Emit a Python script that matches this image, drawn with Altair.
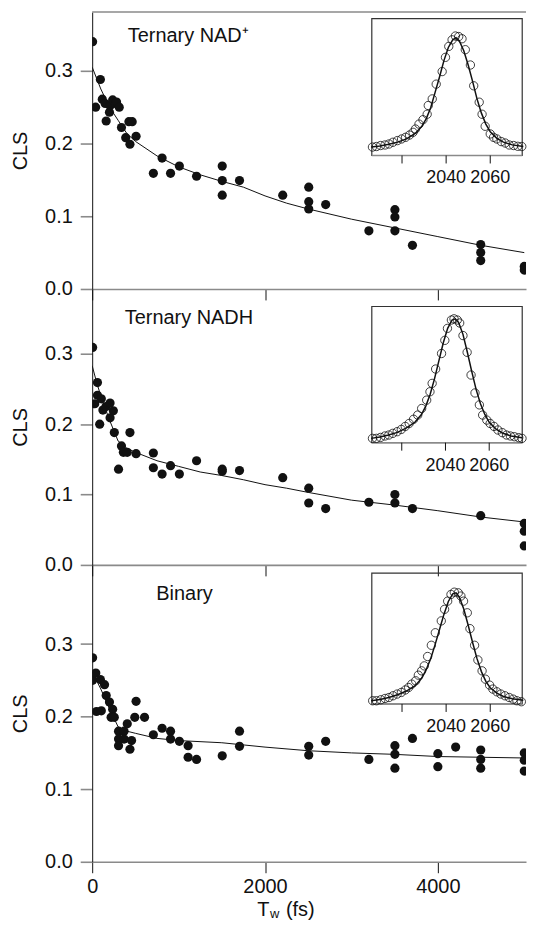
import altair as alt
import pandas as pd

FONT = "Liberation Sans"
GRAY = "#8a8a8a"
BLACK = "#111111"

# ---------------- main data: CLS vs Tw ----------------
nad_t = [5, 95, 40, 117, 150, 162, 207, 237, 270, 282, 313, 200, 339, 388, 425, 463, 437, 508,
         708, 809, 907, 1009, 1208, 1505, 1505, 1505, 1705, 2205, 2506, 2506, 2506, 2702,
         3202, 3503, 3503, 3503, 3706, 4496, 4496, 4496, 5000, 5000]
nad_cls = [0.34, 0.288, 0.25, 0.261, 0.255, 0.231, 0.252, 0.26, 0.255, 0.257, 0.25, 0.243, 0.222,
           0.208, 0.23, 0.23, 0.199, 0.21, 0.159, 0.18, 0.159, 0.169, 0.155, 0.169, 0.149,
           0.129, 0.149, 0.129, 0.14, 0.12, 0.11, 0.116, 0.08, 0.109, 0.099, 0.08, 0.06,
           0.061, 0.05, 0.039, 0.031, 0.026]
nad_fit_t = [0, 50, 100, 200, 300, 400, 500, 750, 1000, 1250, 1500, 1750, 2000, 2250, 2500,
             3000, 3500, 4000, 4500, 5000]
nad_fit_y = [0.305, 0.29, 0.275, 0.25, 0.232, 0.214, 0.203, 0.183, 0.168, 0.157, 0.148, 0.14,
             0.128, 0.118, 0.11, 0.096, 0.084, 0.072, 0.06, 0.05]

nadh_t = [5, 61, 61, 30, 106, 124, 87, 160, 207, 207, 245, 256, 339, 305, 361, 406, 437, 508,
          708, 708, 809, 907, 1009, 1208, 1505, 1505, 1705, 2205, 2506, 2506, 2702, 3202,
          3503, 3503, 3706, 4496, 5000, 5000, 5000]
nadh_cls = [0.309, 0.259, 0.241, 0.229, 0.236, 0.22, 0.2, 0.225, 0.23, 0.209, 0.219, 0.188,
            0.169, 0.136, 0.16, 0.16, 0.188, 0.158, 0.159, 0.138, 0.129, 0.141, 0.129, 0.148,
            0.136, 0.133, 0.134, 0.124, 0.109, 0.088, 0.08, 0.089, 0.1, 0.088, 0.08, 0.07,
            0.059, 0.048, 0.027]
nadh_fit_t = [0, 50, 100, 200, 300, 400, 500, 750, 1000, 1250, 1500, 1750, 2000, 2250, 2500,
              3000, 3500, 4000, 4500, 5000]
nadh_fit_y = [0.283, 0.26, 0.24, 0.206, 0.176, 0.166, 0.16, 0.148, 0.14, 0.132, 0.127, 0.121,
              0.114, 0.109, 0.103, 0.092, 0.085, 0.077, 0.068, 0.061]

bin_t = [5, 5, 42, 95, 50, 106, 143, 162, 200, 237, 219, 256, 305, 305, 305, 369, 369, 406,
         437, 456, 508, 493, 606, 708, 809, 907, 907, 1009, 1110, 1110, 1208, 1505, 1705,
         1705, 2506, 2506, 2702, 3202, 3503, 3503, 3503, 3706, 4000, 4000, 4206, 4496, 4496,
         4496, 5000, 5000, 5000]
bin_cls = [0.281, 0.25, 0.26, 0.251, 0.207, 0.208, 0.244, 0.229, 0.22, 0.21, 0.199, 0.199,
           0.18, 0.169, 0.16, 0.18, 0.169, 0.19, 0.155, 0.167, 0.221, 0.199, 0.199, 0.175,
           0.184, 0.18, 0.169, 0.166, 0.16, 0.144, 0.141, 0.146, 0.18, 0.159, 0.159, 0.147,
           0.166, 0.141, 0.16, 0.148, 0.129, 0.17, 0.149, 0.131, 0.158, 0.154, 0.141, 0.129,
           0.15, 0.14, 0.125]
bin_fit_t = [0, 50, 100, 200, 300, 400, 500, 750, 1000, 1500, 2000, 2500, 3000, 3500, 4000,
             4500, 5000]
bin_fit_y = [0.262, 0.25, 0.238, 0.211, 0.186, 0.18, 0.177, 0.17, 0.167, 0.164, 0.158, 0.153,
             0.15, 0.148, 0.145, 0.144, 0.143]

# ---------------- inset spectra ----------------
s1_f = [2006.6, 2008.4, 2010.3, 2012.3, 2014.1, 2015.9, 2017.9, 2019.8, 2021.6, 2023.4, 2025.0,
        2026.1, 2027.7, 2029.5, 2031.4, 2031.9, 2033.7, 2035.5, 2038.2, 2039.7, 2041.2, 2042.7,
        2044.2, 2045.7, 2047.2, 2048.7, 2051.0, 2052.5, 2055.0, 2056.3, 2057.7, 2060.0, 2061.5,
        2063.0, 2065.0, 2066.8, 2068.6, 2070.6, 2072.5, 2074.3]
s1_v = [0.0, 0.005, 0.014, 0.019, 0.028, 0.044, 0.059, 0.074, 0.089, 0.11, 0.135, 0.165, 0.21,
        0.25, 0.30, 0.38, 0.44, 0.575, 0.69, 0.82, 0.92, 0.98, 1.015, 1.01, 0.99, 0.89, 0.75,
        0.56, 0.41, 0.30, 0.19, 0.12, 0.089, 0.074, 0.05, 0.037, 0.019, 0.014, 0.007, 0.005]
s1_fit_f = [2006, 2010, 2014, 2018, 2022, 2026, 2029, 2031, 2033, 2035, 2037, 2039, 2041, 2043,
            2044.5, 2046, 2048, 2050, 2052, 2054, 2056, 2058, 2060, 2063, 2066, 2070, 2075]
s1_fit_v = [0.0, 0.01, 0.025, 0.045, 0.075, 0.125, 0.19, 0.26, 0.36, 0.5, 0.64, 0.79, 0.91, 0.98,
            1.0, 0.97, 0.88, 0.75, 0.6, 0.44, 0.31, 0.21, 0.14, 0.08, 0.045, 0.02, 0.005]

s2_f = [2006.6, 2008.4, 2010.3, 2012.3, 2014.1, 2015.9, 2017.9, 2019.8, 2021.6, 2023.4, 2025.4,
        2027.3, 2029.1, 2031.4, 2032.9, 2033.9, 2035.5, 2038.2, 2039.7, 2040.9, 2042.7, 2043.9,
        2045.4, 2046.5, 2048.0, 2049.9, 2051.7, 2053.5, 2055.5, 2057.0, 2058.9, 2060.4, 2062.2,
        2064.0, 2066.0, 2067.9, 2069.7, 2071.5, 2073.5, 2075.0]
s2_v = [0.0, 0.0, 0.008, 0.02, 0.028, 0.042, 0.056, 0.075, 0.1, 0.125, 0.16, 0.195, 0.25, 0.32,
        0.39, 0.46, 0.58, 0.71, 0.82, 0.92, 0.99, 1.0, 0.99, 0.965, 0.86, 0.72, 0.53, 0.38, 0.28,
        0.195, 0.153, 0.125, 0.1, 0.07, 0.048, 0.028, 0.02, 0.014, 0.006, 0.0]
s2_fit_f = [2006, 2010, 2014, 2018, 2022, 2026, 2029, 2031, 2033, 2035, 2037, 2039, 2041, 2043,
            2044.5, 2046, 2048, 2050, 2052, 2054, 2056, 2058, 2060, 2063, 2066, 2070, 2075]
s2_fit_v = [0.0, 0.012, 0.028, 0.05, 0.085, 0.135, 0.2, 0.27, 0.37, 0.5, 0.65, 0.8, 0.92, 0.99,
            1.0, 0.97, 0.87, 0.72, 0.56, 0.41, 0.29, 0.2, 0.135, 0.08, 0.045, 0.02, 0.005]

s3_f = [2006.7, 2008.4, 2010.4, 2012.3, 2014.1, 2015.9, 2017.8, 2019.7, 2021.5, 2023.0, 2024.4,
        2026.2, 2027.4, 2028.9, 2030.1, 2031.6, 2033.3, 2035.1, 2037.8, 2039.3, 2040.7, 2042.2,
        2043.7, 2045.5, 2046.7, 2047.9, 2049.6, 2050.8, 2052.9, 2054.4, 2056.3, 2057.8, 2059.7,
        2061.2, 2063.0, 2064.8, 2066.7, 2068.6, 2070.4, 2072.1, 2074.1]
s3_v = [0.0, 0.0, 0.009, 0.021, 0.03, 0.046, 0.062, 0.077, 0.1, 0.123, 0.154, 0.185, 0.237,
        0.277, 0.323, 0.41, 0.514, 0.63, 0.74, 0.847, 0.923, 0.985, 1.006, 1.0, 0.97, 0.923,
        0.815, 0.668, 0.514, 0.378, 0.277, 0.2, 0.145, 0.108, 0.083, 0.062, 0.046, 0.03, 0.015,
        0.0, -0.009]
s3_fit_f = [2006, 2010, 2014, 2018, 2022, 2026, 2029, 2031, 2033, 2035, 2037, 2039, 2041, 2043,
            2044.5, 2046, 2048, 2050, 2052, 2054, 2056, 2058, 2060, 2063, 2066, 2070, 2075]
s3_fit_v = [0.0, 0.012, 0.03, 0.055, 0.09, 0.14, 0.21, 0.29, 0.39, 0.52, 0.66, 0.8, 0.92, 0.99,
            1.0, 0.96, 0.85, 0.7, 0.54, 0.39, 0.27, 0.18, 0.12, 0.07, 0.04, 0.018, 0.004]

inset_ticks = [2020, 2040, 2060]
inset_labels = ["2040", "2060"]
inset_label_pos = [2040, 2060]
main_ticks = [0, 2000, 4000]
cls_ticks = [0.0, 0.1, 0.2, 0.3]

titles = ["Ternary NAD\u207a", "Ternary NADH", "Binary"]

# ---------------- layout ----------------
X_MAX = 5020
W = 435.5
IN_L, IN_R = 280.7, 431.7


def make_panel(pt_t, pt_y, ft_t, ft_y, sf, sv, sff, sfv, title, title_xy, H, ymax,
               box, xdom, ydom, bottom, top_border):
    pts = pd.DataFrame({"t": pt_t, "cls": pt_y})
    fit = pd.DataFrame({"t": ft_t, "cls": ft_y})
    xs = alt.Scale(domain=[0, X_MAX], nice=False, zero=False)
    ys = alt.Scale(domain=[0, ymax], nice=False, zero=False)
    xaxis = alt.Axis(values=main_ticks, format="d", labels=bottom, tickSize=11,
                     tickColor=BLACK, tickWidth=1, domainColor=GRAY, domainWidth=1.6,
                     grid=False, title=None, labelFontSize=20, labelFont=FONT,
                     labelColor=BLACK, labelPadding=4, labelFlush=False)
    yaxis = alt.Axis(values=cls_ticks, format=".1f", tickSize=12, tickColor=GRAY, tickWidth=1.6,
                     domainColor=BLACK, domainWidth=1, grid=False, title="CLS",
                     titleFontSize=20, titleFont=FONT, titleFontWeight="normal",
                     titleColor=BLACK, titlePadding=14, labelFontSize=20, labelFont=FONT,
                     labelColor=BLACK, labelPadding=8)
    points = alt.Chart(pts).mark_circle(size=85, color=BLACK, opacity=1, clip=True).encode(
        x=alt.X("t:Q", scale=xs, axis=xaxis), y=alt.Y("cls:Q", scale=ys, axis=yaxis))
    line = alt.Chart(fit).mark_line(color=BLACK, strokeWidth=1, clip=True).encode(
        x=alt.X("t:Q", scale=xs, axis=xaxis), y=alt.Y("cls:Q", scale=ys, axis=yaxis))
    ttl = alt.Chart(pd.DataFrame({"label": [title]})).mark_text(
        align="left", baseline="middle", fontSize=20, font=FONT, color=BLACK).encode(
        x=alt.value(title_xy[0]), y=alt.value(title_xy[1]), text="label:N")
    main_layers = [line, points, ttl]
    one = pd.DataFrame({"a": [0]})
    if top_border:
        main_layers.append(alt.Chart(one).mark_rule(color=GRAY, strokeWidth=1.6).encode(
            x=alt.value(0), x2=alt.value(W), y=alt.value(0)))
    if bottom:
        main_layers.append(alt.Chart(pd.DataFrame({"s": ["T"]})).mark_text(
            align="left", baseline="middle", fontSize=20, font=FONT, color=BLACK).encode(
            x=alt.value(165.7), y=alt.value(H + 48.5), text="s:N"))
        main_layers.append(alt.Chart(pd.DataFrame({"s": ["w"]})).mark_text(
            align="left", baseline="middle", fontSize=13, font=FONT, color=BLACK).encode(
            x=alt.value(178.5), y=alt.value(H + 52.5), text="s:N"))
        main_layers.append(alt.Chart(pd.DataFrame({"s": ["(fs)"]})).mark_text(
            align="left", baseline="middle", fontSize=20, font=FONT, color=BLACK).encode(
            x=alt.value(194.5), y=alt.value(H + 48.5), text="s:N"))
    main = alt.layer(*main_layers)

    L, R, T, B = box
    fx = alt.Scale(domain=xdom, range=[L, R], nice=False, zero=False)
    fy = alt.Scale(domain=ydom, range=[B, T], nice=False, zero=False)
    frame = alt.Chart(one).mark_rect(filled=False, stroke="#333333", strokeWidth=1.2).encode(
        x=alt.value(L), x2=alt.value(R), y=alt.value(T), y2=alt.value(B))
    baseline = alt.Chart(one).mark_rule(color=GRAY, strokeWidth=1.6).encode(
        x=alt.value(L), x2=alt.value(R), y=alt.value(B))
    ticks = alt.Chart(pd.DataFrame({"f": inset_ticks})).mark_rule(
        color=BLACK, strokeWidth=1).encode(
        x=alt.X("f:Q", scale=fx, axis=None), y=alt.value(B), y2=alt.value(B + 8))
    labs = alt.Chart(pd.DataFrame({"f": inset_label_pos, "lab": inset_labels})).mark_text(
        align="center", baseline="middle", fontSize=18, font=FONT, color=BLACK).encode(
        x=alt.X("f:Q", scale=fx, axis=None), y=alt.value(B + 23), text="lab:N")
    sline = alt.Chart(pd.DataFrame({"f": sff, "v": sfv})).mark_line(
        color=BLACK, strokeWidth=1.5, clip=False).encode(
        x=alt.X("f:Q", scale=fx, axis=None), y=alt.Y("v:Q", scale=fy, axis=None))
    circ = alt.Chart(pd.DataFrame({"f": sf, "v": sv})).mark_point(
        shape="circle", filled=False, color=BLACK, size=70, strokeWidth=0.8, opacity=1).encode(
        x=alt.X("f:Q", scale=fx, axis=None), y=alt.Y("v:Q", scale=fy, axis=None))
    inset = alt.layer(frame, baseline, ticks, labs, sline, circ)

    return alt.layer(main, inset).resolve_scale(x="independent", y="independent").properties(
        width=W, height=H)


p1 = make_panel(nad_t, nad_cls, nad_fit_t, nad_fit_y, s1_f, s1_v, s1_fit_f, s1_fit_v,
                titles[0], (35.7, 23.7), 278, 0.3808,
                (IN_L, IN_R, 6.7, 144), [2006.3, 2074.5], [-0.077, 1.173], False, True)
p2 = make_panel(nadh_t, nadh_cls, nadh_fit_t, nadh_fit_y, s2_f, s2_v, s2_fit_f, s2_fit_v,
                titles[1], (32.7, 29), 277, 0.392,
                (IN_L, IN_R, 17.6, 154.3), [2006.3, 2075.1], [-0.036, 1.103], False, False)
p3 = make_panel(bin_t, bin_cls, bin_fit_t, bin_fit_y, s3_f, s3_v, s3_fit_f, s3_fit_v,
                titles[2], (64.4, 29.6), 298, 0.409,
                (IN_L, IN_R, 8.3, 139.6), [2006.3, 2074.5], [-0.03, 1.182], True, False)

chart = alt.vconcat(p1, p2, p3, spacing=0, bounds="flush").configure_view(
    stroke=None).properties(padding={"left": 2.5, "top": 1.3, "right": 0, "bottom": 0})

chart.save("out.html", embed_options={"renderer": "svg", "actions": False})
